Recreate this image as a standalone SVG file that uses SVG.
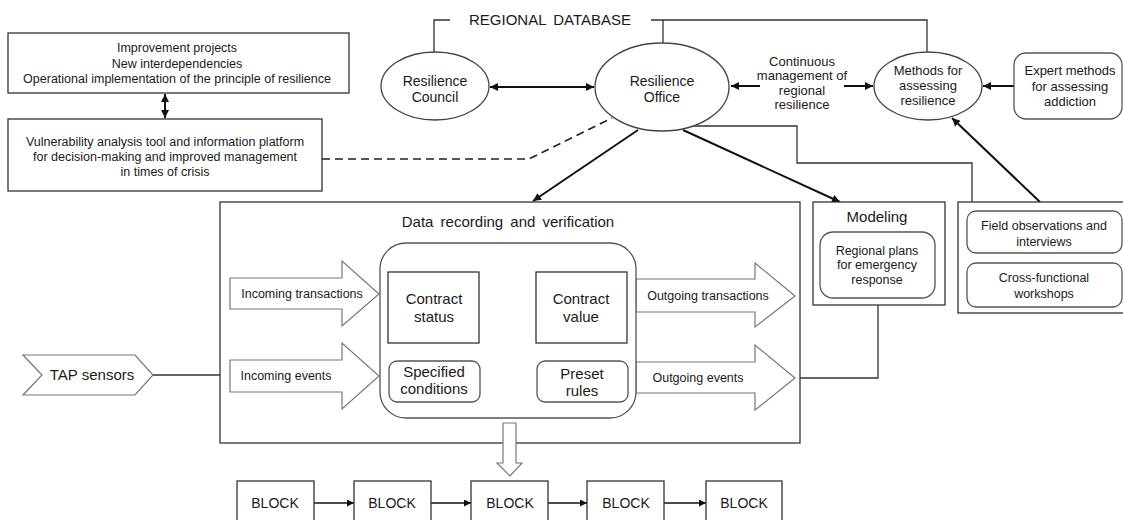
<svg xmlns="http://www.w3.org/2000/svg" width="1123" height="520" viewBox="0 0 1123 520">
  <defs>
    <marker id="head" viewBox="0 0 10 10" refX="10" refY="5" markerWidth="10" markerHeight="8" markerUnits="userSpaceOnUse" orient="auto-start-reverse">
      <path d="M0,0 L10,5 L0,10 z" fill="#111"/>
    </marker>
    <marker id="headSmall" viewBox="0 0 10 10" refX="10" refY="5" markerWidth="9" markerHeight="7" markerUnits="userSpaceOnUse" orient="auto">
      <path d="M0,0 L10,5 L0,10 z" fill="#111"/>
    </marker>
    <style>
      text { font-family: "Liberation Sans", Arial, sans-serif; fill: #1a1a1a; text-anchor: middle; }
      .box { fill: #fff; stroke: #333; stroke-width: 1.3; }
      .soft { fill: #fff; stroke: #555; stroke-width: 1.3; }
      .oval { fill: #fff; stroke: #444; stroke-width: 1.3; }
      .hollow { fill: #fff; stroke: #777; stroke-width: 1.2; }
      .line { fill: none; stroke: #333; stroke-width: 1.3; }
      .arrow { fill: none; stroke: #111; stroke-width: 2; }
      .thin { fill: none; stroke: #111; stroke-width: 1.5; }
      .dash { fill: none; stroke: #222; stroke-width: 1.6; stroke-dasharray: 8 5; }
      .f12 { font-size: 12.5px; }
      .f13 { font-size: 13px; }
      .f14 { font-size: 14px; }
      .f15 { font-size: 15px; }
    </style>
  </defs>
  <rect width="1123" height="520" fill="#fff"/>

  <!-- connectors -->
  <g id="connectors">
    <!-- regional database brackets -->
    <polyline class="line" points="450,20 434,20 434,52"/>
    <polyline class="line" points="651,20 927,20 927,52"/>
    <line class="line" x1="663" y1="20" x2="663" y2="43"/>
    <!-- office to field observations -->
    <polyline class="line" points="690,126 797,126 797,163 972,163 972,202"/>
    <!-- dashed link to the vulnerability tool -->
    <polyline class="dash" points="322,159 529,159 612,118"/>
    <!-- sensors feed -->
    <line class="line" x1="153" y1="375" x2="230" y2="375"/>
    <!-- outgoing events to modeling -->
    <polyline class="line" points="795,378 878,378 878,305"/>
    <!-- arrows -->
    <line class="arrow" x1="165" y1="94" x2="165" y2="118" marker-start="url(#head)" marker-end="url(#head)"/>
    <line class="arrow" x1="490" y1="87" x2="594" y2="87" marker-start="url(#head)" marker-end="url(#head)"/>
    <line class="arrow" x1="760" y1="86" x2="731" y2="86" marker-end="url(#head)"/>
    <line class="arrow" x1="844" y1="86" x2="873" y2="86" marker-end="url(#head)"/>
    <line class="arrow" x1="1014" y1="86" x2="983" y2="86" marker-end="url(#head)"/>
    <line class="arrow" x1="638" y1="130" x2="533" y2="201" marker-end="url(#head)"/>
    <line class="arrow" x1="683" y1="130" x2="840" y2="202" marker-end="url(#head)"/>
    <line class="arrow" x1="1040" y1="202" x2="952" y2="118" marker-end="url(#head)"/>
    <line class="thin" x1="485" y1="287" x2="531" y2="287" marker-end="url(#headSmall)"/>
    <line class="thin" x1="485" y1="309" x2="531" y2="309" marker-end="url(#headSmall)"/>
    <line class="thin" x1="485" y1="333" x2="531" y2="333" marker-end="url(#headSmall)"/>
    <line class="thin" x1="314" y1="503" x2="354" y2="503" marker-end="url(#headSmall)"/>
    <line class="thin" x1="431" y1="503" x2="471" y2="503" marker-end="url(#headSmall)"/>
    <line class="thin" x1="548" y1="503" x2="587" y2="503" marker-end="url(#headSmall)"/>
    <line class="thin" x1="664" y1="503" x2="706" y2="503" marker-end="url(#headSmall)"/>
  </g>

  <!-- outcomes box -->
  <g id="outcomes">
    <rect class="box" x="8" y="33" width="341" height="60"/>
    <text class="f12" x="177" y="52">Improvement projects</text>
    <text class="f12" x="177" y="68">New interdependencies</text>
    <text class="f12" x="177" y="83">Operational implementation of the principle of resilience</text>
  </g>

  <!-- vulnerability tool -->
  <g id="vulnerability-tool">
    <rect class="box" x="8" y="119" width="314" height="72"/>
    <text class="f12" x="165" y="146">Vulnerability analysis tool and information platform</text>
    <text class="f12" x="165" y="161">for decision-making and improved management</text>
    <text class="f12" x="165" y="176">in times of crisis</text>
  </g>

  <!-- regional database label -->
  <g id="regional-database">
    <text class="f15" x="550" y="25" style="word-spacing:3px">REGIONAL DATABASE</text>
  </g>

  <!-- resilience council -->
  <g id="resilience-council">
    <ellipse class="oval" cx="435" cy="86" rx="54" ry="34"/>
    <text class="f14" x="435" y="86">Resilience</text>
    <text class="f14" x="435" y="102">Council</text>
  </g>

  <!-- resilience office -->
  <g id="resilience-office">
    <ellipse class="oval" cx="662" cy="87" rx="67" ry="44"/>
    <text class="f14" x="662" y="86">Resilience</text>
    <text class="f14" x="662" y="102">Office</text>
  </g>

  <!-- management label -->
  <g id="continuous-management">
    <text class="f13" x="802" y="66">Continuous</text>
    <text class="f13" x="802" y="80">management of</text>
    <text class="f13" x="802" y="95">regional</text>
    <text class="f13" x="802" y="109">resilience</text>
  </g>

  <!-- assessment methods -->
  <g id="assessment-methods">
    <ellipse class="oval" cx="928" cy="86" rx="54" ry="34"/>
    <text class="f13" x="928" y="75">Methods for</text>
    <text class="f13" x="928" y="90">assessing</text>
    <text class="f13" x="928" y="105">resilience</text>
  </g>

  <!-- expert methods -->
  <g id="expert-methods">
    <rect class="soft" x="1014" y="53" width="108" height="66" rx="12"/>
    <text class="f13" x="1070" y="75">Expert methods</text>
    <text class="f13" x="1070" y="91">for assessing</text>
    <text class="f13" x="1070" y="106">addiction</text>
  </g>

  <!-- field inputs -->
  <g id="field-inputs">
    <rect class="box" x="958" y="202" width="175" height="111"/>
    <rect class="soft" x="967" y="211" width="155" height="42" rx="9"/>
    <text class="f12" x="1044" y="230">Field observations and</text>
    <text class="f12" x="1044" y="246">interviews</text>
    <rect class="soft" x="967" y="263" width="155" height="44" rx="9"/>
    <text class="f12" x="1044" y="282">Cross-functional</text>
    <text class="f12" x="1044" y="298">workshops</text>
  </g>

  <!-- modeling -->
  <g id="modeling">
    <rect class="box" x="813" y="202" width="132" height="103"/>
    <text class="f15" x="877" y="222">Modeling</text>
    <rect class="soft" x="820" y="232" width="115" height="66" rx="13"/>
    <text class="f12" x="877" y="255">Regional plans</text>
    <text class="f12" x="877" y="269">for emergency</text>
    <text class="f12" x="877" y="284">response</text>
  </g>

  <!-- data recording and verification -->
  <g id="data-recording">
    <rect class="box" x="220" y="202" width="580" height="241"/>
    <text class="f15" x="508" y="227" style="word-spacing:3px">Data recording and verification</text>
    <polygon class="hollow" points="230,278 342,278 342,261 379,294 342,326 342,309 230,309"/>
    <text class="f12" x="302" y="298">Incoming transactions</text>
    <polygon class="hollow" points="230,360 342,360 342,343 379,376 342,409 342,392 230,392"/>
    <text class="f12" x="286" y="380">Incoming events</text>
    <polygon class="hollow" points="636,279 755,279 755,263 795,296 755,327 755,312 636,312"/>
    <text class="f12" x="708" y="300">Outgoing transactions</text>
    <polygon class="hollow" points="636,362 755,362 755,345 795,378 755,410 755,393 636,393"/>
    <text class="f12" x="698" y="382">Outgoing events</text>
    <rect class="soft" x="380" y="243" width="256" height="175" rx="26"/>
  </g>

  <g id="contract-status">
    <rect class="box" x="388" y="272" width="91" height="71"/>
    <text class="f15" x="434" y="304">Contract</text>
    <text class="f15" x="434" y="322">status</text>
  </g>

  <g id="contract-value">
    <rect class="box" x="536" y="272" width="91" height="71"/>
    <text class="f15" x="581" y="304">Contract</text>
    <text class="f15" x="581" y="322">value</text>
  </g>

  <g id="specified-conditions">
    <rect class="soft" x="389" y="361" width="91" height="41" rx="8"/>
    <text class="f15" x="434" y="377">Specified</text>
    <text class="f15" x="434" y="394">conditions</text>
  </g>

  <g id="preset-rules">
    <rect class="soft" x="537" y="361" width="91" height="41" rx="8"/>
    <text class="f15" x="582" y="379">Preset</text>
    <text class="f15" x="582" y="396">rules</text>
  </g>

  <!-- sensors -->
  <g id="tap-sensors">
    <polygon class="hollow" points="23,355 135,355 153,375 135,395 23,395 42,375"/>
    <text class="f15" x="92" y="380">TAP sensors</text>
  </g>

  <!-- hand-off to the chain -->
  <g id="chain-handoff">
    <polygon class="hollow" points="503,423 516,423 516,463 522,463 510,476 497,463 503,463"/>
  </g>

  <!-- block chain -->
  <g id="block-1"><rect class="box" x="237" y="481" width="77" height="45"/><text class="f14" x="275" y="508">BLOCK</text></g>
  <g id="block-2"><rect class="box" x="354" y="481" width="77" height="45"/><text class="f14" x="392" y="508">BLOCK</text></g>
  <g id="block-3"><rect class="box" x="471" y="481" width="77" height="45"/><text class="f14" x="510" y="508">BLOCK</text></g>
  <g id="block-4"><rect class="box" x="587" y="481" width="77" height="45"/><text class="f14" x="626" y="508">BLOCK</text></g>
  <g id="block-5"><rect class="box" x="706" y="481" width="76" height="45"/><text class="f14" x="744" y="508">BLOCK</text></g>
</svg>
